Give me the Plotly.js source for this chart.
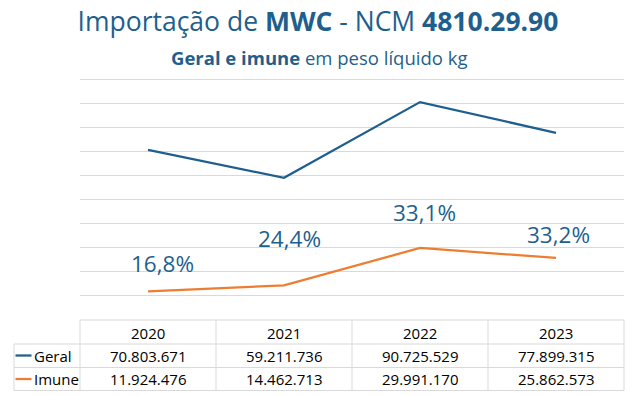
<!DOCTYPE html>
<html>
<head>
<meta charset="utf-8">
<script src="https://cdn.plot.ly/plotly-3.0.1.min.js"></script>
<style>html,body{margin:0;padding:0;background:#fff;}#chart{width:634px;height:395px;}</style>
</head>
<body>
<div id="chart"></div>
<script>
const years = ['2020', '2021', '2022', '2023'];
const geral = [70803671, 59211736, 90725529, 77899315];
const imune = [11924476, 14462713, 29991170, 25862573];
const seriesNames = ['Geral', 'Imune'];

const BLUE = '#1F5F8E';
const ORANGE = '#ED7D31';
const GRID = '#D9D9D9';
const FONT = 'Open Sans, sans-serif';
const TXT = '#000000';

function fmtInt(n) {
  return String(Math.round(n)).replace(/\B(?=(\d{3})+(?!\d))/g, '.');
}
function fmtPct(v) {
  return (v * 100).toFixed(1).replace('.', ',') + '%';
}

// plot area geometry (pixels)
const W = 634, H = 395, L = 80, R = 10, T = 75, B = 75;
const plotH = H - T - B, plotW = W - L - R;
const py = p => (H - B - p) / plotH;   // pixel y -> paper y
const px = p => (p - L) / plotW;       // pixel x -> paper x

const traces = [
  {x: years, y: geral, name: seriesNames[0], type: 'scatter', mode: 'lines',
   line: {color: BLUE, width: 2.25}, hoverinfo: 'skip'},
  {x: years, y: imune, name: seriesNames[1], type: 'scatter', mode: 'lines',
   line: {color: ORANGE, width: 2.25}, hoverinfo: 'skip'}
];

const annotations = [];
// subtitle
annotations.push({
  xref: 'paper', yref: 'paper', x: px(319), y: py(57), xanchor: 'center', yanchor: 'middle',
  text: '<b>Geral e imune</b> em peso líquido kg', showarrow: false,
  font: {family: FONT, size: 18.5, color: BLUE}
});

// percentage labels (category axis -> use category index)
const pctXShift = [14, 5, 4, 2];
const pctYShift = [28, 47, 35, 23];
years.forEach((yr, i) => {
  annotations.push({
    xref: 'x', yref: 'y', x: i, y: imune[i], xshift: pctXShift[i], yshift: pctYShift[i],
    xanchor: 'center', yanchor: 'middle', showarrow: false,
    text: fmtPct(imune[i] / geral[i]),
    font: {family: FONT, size: 22.5, color: BLUE}
  });
});

// table rows
const rowHeader = py(332.5), rowGeral = py(355.5), rowImune = py(379);
const tableFont = {family: FONT, size: 15, color: TXT};
years.forEach((yr, i) => {
  annotations.push({xref: 'x', yref: 'paper', x: i, y: rowHeader, text: yr, showarrow: false,
    xanchor: 'center', yanchor: 'middle', font: tableFont});
  annotations.push({xref: 'x', yref: 'paper', x: i, y: rowGeral, text: fmtInt(geral[i]), showarrow: false,
    xanchor: 'center', yanchor: 'middle', font: tableFont});
  annotations.push({xref: 'x', yref: 'paper', x: i, y: rowImune, text: fmtInt(imune[i]), showarrow: false,
    xanchor: 'center', yanchor: 'middle', font: tableFont});
});
[[seriesNames[0], rowGeral], [seriesNames[1], rowImune]].forEach(([nm, ry]) => {
  annotations.push({xref: 'paper', yref: 'paper', x: px(32), y: ry, text: nm, showarrow: false,
    xanchor: 'left', yanchor: 'middle', font: {family: FONT, size: 15, color: TXT}});
});

// table lines
const shapes = [];
const lineStyle = {color: GRID, width: 1};
const yTop = 0, yR1 = py(344), yR2 = py(367.5), yBot = py(390.5);
const xLeg = px(14);
shapes.push({type: 'line', xref: 'paper', yref: 'paper', x0: 0, x1: 1, y0: yTop, y1: yTop, line: lineStyle});
[yR1, yR2, yBot].forEach(y => shapes.push({type: 'line', xref: 'paper', yref: 'paper', x0: xLeg, x1: 1, y0: y, y1: y, line: lineStyle}));
[0, 0.25, 0.5, 0.75, 1].forEach(x => shapes.push({type: 'line', xref: 'paper', yref: 'paper', x0: x, x1: x, y0: yTop, y1: yBot, line: lineStyle}));
shapes.push({type: 'line', xref: 'paper', yref: 'paper', x0: xLeg, x1: xLeg, y0: yR1, y1: yBot, line: lineStyle});
// legend keys
shapes.push({type: 'line', xref: 'paper', yref: 'paper', x0: px(15.5), x1: px(31.5), y0: rowGeral, y1: rowGeral, line: {color: BLUE, width: 2.25}});
shapes.push({type: 'line', xref: 'paper', yref: 'paper', x0: px(15.5), x1: px(31.5), y0: rowImune, y1: rowImune, line: {color: ORANGE, width: 2.25}});

const layout = {
  width: W, height: H,
  margin: {l: L, r: R, t: T, b: B, pad: 0},
  paper_bgcolor: '#fff', plot_bgcolor: '#fff',
  showlegend: false,
  title: {
    text: 'Importação de <b>MWC</b> - NCM <b>4810.29.90</b>',
    font: {family: FONT, size: 26.5, color: BLUE},
    x: 318 / W, xref: 'container', xanchor: 'center',
    y: 1 - 22 / H, yref: 'container', yanchor: 'middle'
  },
  xaxis: {type: 'category', range: [-0.5, 3.5], showticklabels: false, showgrid: false,
    zeroline: false, showline: false, fixedrange: true},
  yaxis: {range: [0, 102000000], dtick: 10000000, tick0: 0, showticklabels: false,
    showgrid: true, gridcolor: GRID, gridwidth: 1, zeroline: false, showline: false, fixedrange: true},
  annotations: annotations,
  shapes: shapes
};

Plotly.newPlot('chart', traces, layout, {displayModeBar: false, staticPlot: true});
</script>
</body>
</html>
